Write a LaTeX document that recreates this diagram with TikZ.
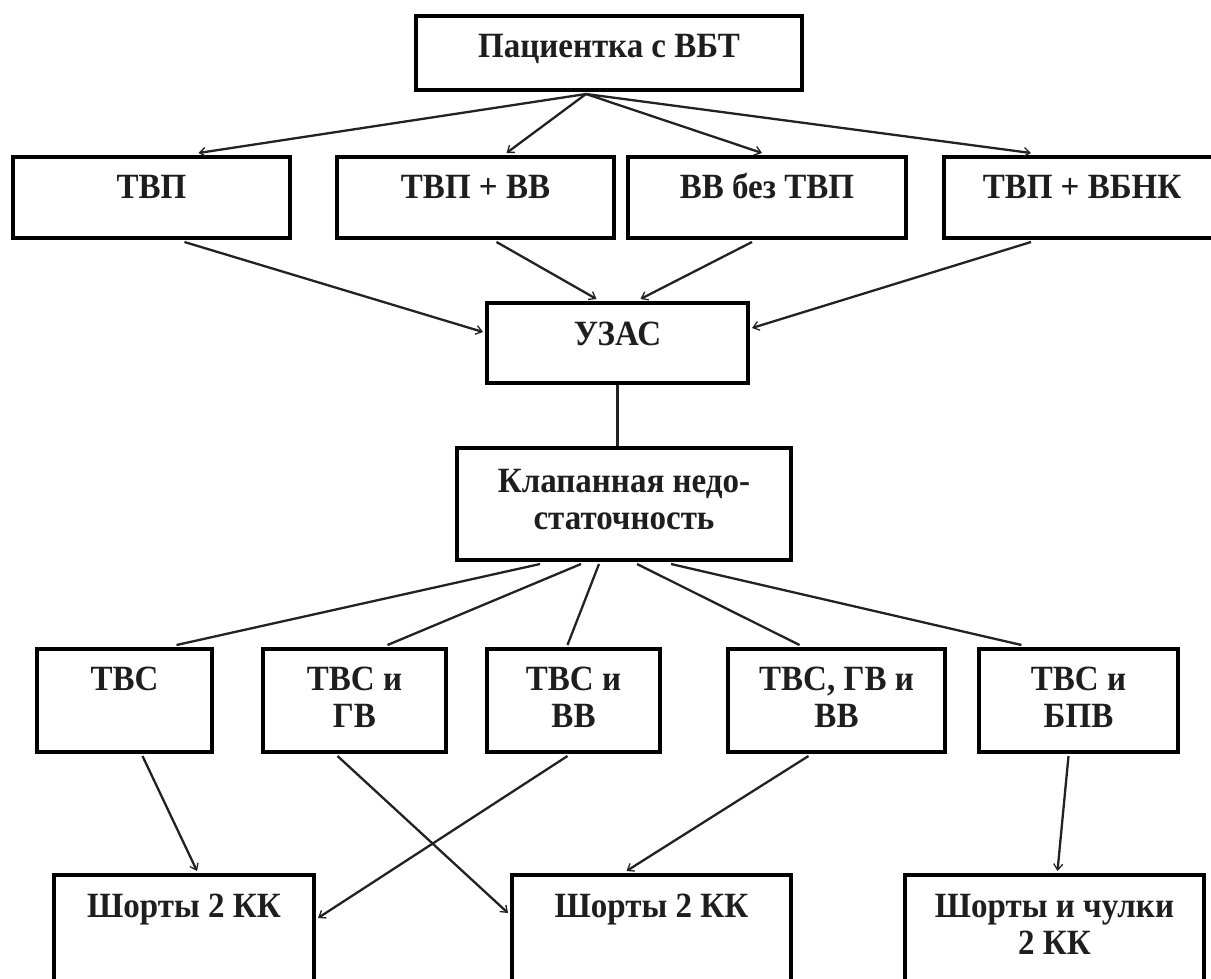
\documentclass[tikz,border=0pt]{standalone}
\usepackage{fontspec}
\setmainfont{Liberation Serif}[FakeStretch=0.93]
\usetikzlibrary{arrows.meta}
\definecolor{ink}{RGB}{30,30,30}
\definecolor{wire}{RGB}{34,34,34}
\newcommand\capstrut{\vphantom{Бб}}
\tikzset{
  box/.style={draw=black, line width=4pt, inner sep=0pt, rectangle},
  txt/.style={inner sep=0pt, anchor=north, align=center, text=ink,
    font=\fontsize{35.5}{36.5}\selectfont\bfseries},
  wireline/.style={draw=wire, line width=2.3pt},
  arrowline/.style={wireline, -{Straight Barb[length=6pt,width=9pt,line width=1.3pt]}}
}
\newcommand\bx[5]{\node[box, minimum width={#4-#2}, minimum height={#5-#3}] (#1) at ({(#2+#4)/2},{-(#3+#5)/2}) {};}
\begin{document}
\begin{tikzpicture}[x=1pt,y=1pt]
\useasboundingbox (0,0) rectangle (1211,-978);
\clip (0,0) rectangle (1211,-978);
% boxes
\bx{top}{416}{16}{802}{90}
\bx{tvp}{13}{157}{290}{238}
\bx{tvpvv}{337}{157}{614}{238}
\bx{vvbez}{628}{157}{906}{238}
\bx{tvpvbnk}{944}{157}{1220}{238}
\bx{uzas}{487}{303}{748}{383}
\bx{klap}{457}{448}{791}{560}
\bx{tvs}{37}{649}{212}{752}
\bx{tvsgv}{263}{649}{446}{752}
\bx{tvsvv}{487}{649}{660}{752}
\bx{tvsgvvv}{728}{649}{945}{752}
\bx{tvsbpv}{979}{649}{1178}{752}
\bx{shA}{54}{875}{314}{1010}
\bx{shB}{512}{875}{791}{1010}
\bx{shC}{905}{875}{1204}{1010}
% texts
\node[txt] (top-t) at ([yshift=-18]top.north) {\capstrut Пациентка с ВБТ};
\node[txt] (tvp-t) at ([yshift=-18]tvp.north) {\capstrut ТВП};
\node[txt] (tvpvv-t) at ([yshift=-18]tvpvv.north) {\capstrut ТВП + ВВ};
\node[txt] (vvbez-t) at ([yshift=-18]vvbez.north) {\capstrut ВВ без ТВП};
\node[txt] (tvpvbnk-t) at ([yshift=-18]tvpvbnk.north) {\capstrut ТВП + ВБНК};
\node[txt] (uzas-t) at ([yshift=-19]uzas.north) {\capstrut УЗАС};
\node[txt] (klap-t) at ([yshift=-21]klap.north) {\capstrut Клапанная недо-\\статочность};
\node[txt] (tvs-t) at ([yshift=-18]tvs.north) {\capstrut ТВС};
\node[txt] (tvsgv-t) at ([yshift=-18]tvsgv.north) {\capstrut ТВС и\\ГВ};
\node[txt] (tvsvv-t) at ([yshift=-18]tvsvv.north) {\capstrut ТВС и\\ВВ};
\node[txt] (tvsgvvv-t) at ([yshift=-18]tvsgvvv.north) {\capstrut ТВС, ГВ и\\ВВ};
\node[txt] (tvsbpv-t) at ([yshift=-18]tvsbpv.north) {\capstrut ТВС и\\БПВ};
\node[txt] (shA-t) at ([yshift=-19]shA.north) {\capstrut Шорты 2 КК};
\node[txt] (shB-t) at ([yshift=-19]shB.north) {\capstrut Шорты 2 КК};
\node[txt] (shC-t) at ([yshift=-19]shC.north) {\capstrut Шорты и чулки\\2 КК};
% top -> row 2
\draw[arrowline] ([xshift=-23,yshift=-2]top.south) -- ([xshift=47,yshift=2]tvp.north);
\draw[arrowline] ([xshift=-23,yshift=-2]top.south) -- ([xshift=31,yshift=2]tvpvv.north);
\draw[arrowline] ([xshift=-23,yshift=-2]top.south) -- ([xshift=-5,yshift=2]vvbez.north);
\draw[arrowline] ([xshift=-23,yshift=-2]top.south) -- ([xshift=-51,yshift=2]tvpvbnk.north);
% row 2 -> UZAS
\draw[arrowline] ([xshift=33,yshift=-2]tvp.south) -- ([xshift=-2,yshift=11]uzas.west);
\draw[arrowline] ([xshift=21,yshift=-2]tvpvv.south) -- ([xshift=-21,yshift=2]uzas.north);
\draw[arrowline] ([xshift=-15,yshift=-2]vvbez.south) -- ([xshift=23,yshift=2]uzas.north);
\draw[arrowline] ([xshift=-51,yshift=-2]tvpvbnk.south) -- ([xshift=2,yshift=15]uzas.east);
% UZAS -> klap
\draw[wireline] (uzas.south) -- (uzas.south |- klap.north);
% klap -> row 4
\draw[wireline] ([xshift=-84,yshift=-2]klap.south) -- ([xshift=52,yshift=2]tvs.north);
\draw[wireline] ([xshift=-43,yshift=-2]klap.south) -- ([xshift=33,yshift=2]tvsgv.north);
\draw[wireline] ([xshift=-25,yshift=-2]klap.south) -- ([xshift=-6,yshift=2]tvsvv.north);
\draw[wireline] ([xshift=13,yshift=-2]klap.south) -- ([xshift=-37,yshift=2]tvsgvvv.north);
\draw[wireline] ([xshift=47,yshift=-2]klap.south) -- ([xshift=-57,yshift=2]tvsbpv.north);
% row 4 -> row 5
\draw[arrowline] ([xshift=18,yshift=-2]tvs.south) -- ([xshift=13,yshift=2]shA.north);
\draw[arrowline] ([xshift=-17,yshift=-2]tvsgv.south) -- ([xshift=-2,yshift=-40]shB.north west);
\draw[arrowline] ([xshift=-6,yshift=-2]tvsvv.south) -- ([xshift=2,yshift=-45]shA.north east);
\draw[arrowline] ([xshift=-28,yshift=-2]tvsgvvv.south) -- ([xshift=-25,yshift=2]shB.north);
\draw[arrowline] ([xshift=-10,yshift=-2]tvsbpv.south) -- ([xshift=3,yshift=2]shC.north);
\end{tikzpicture}
\end{document}
